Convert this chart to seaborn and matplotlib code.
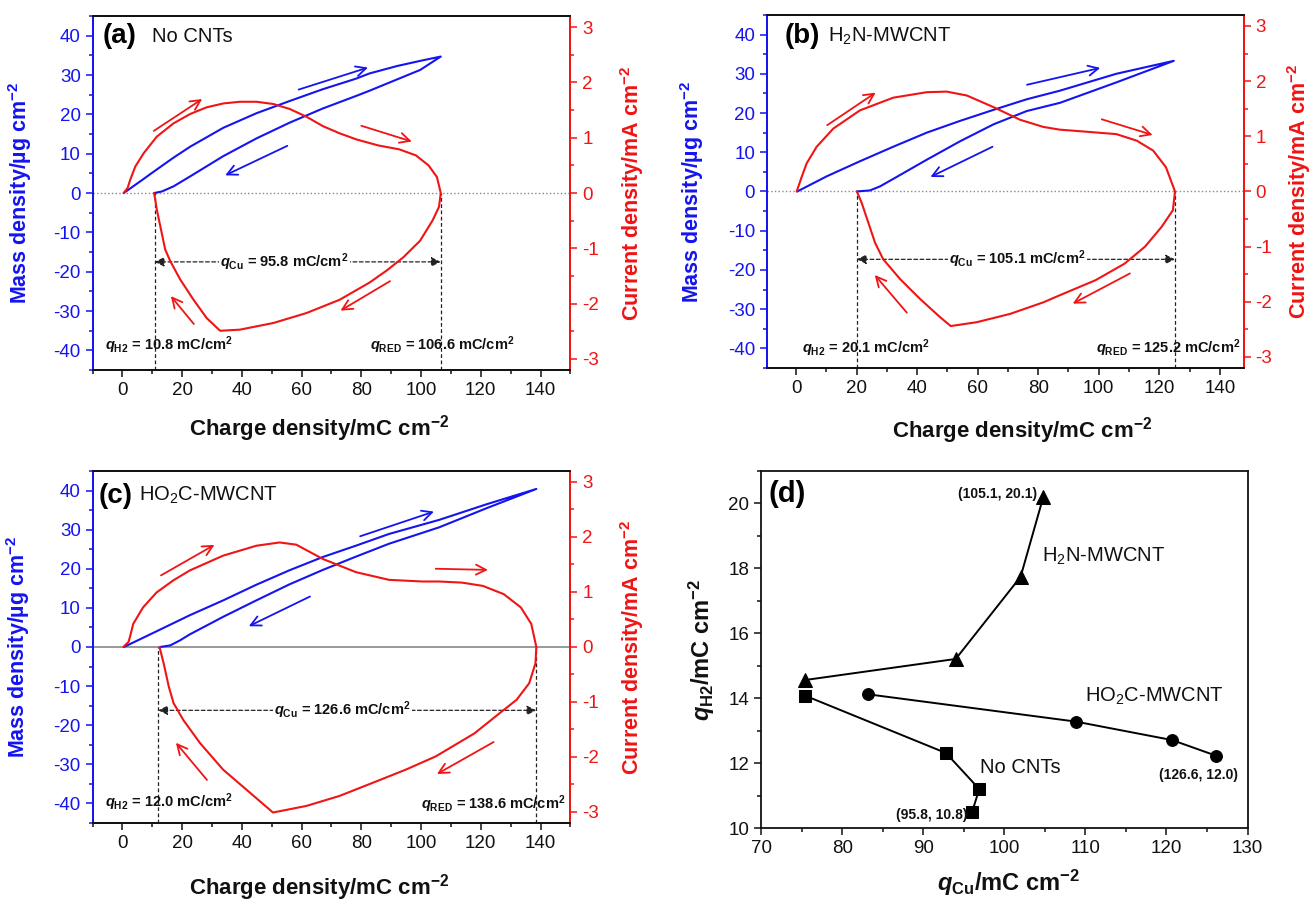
import numpy as np
import pandas as pd
import matplotlib
matplotlib.use('Agg')
import matplotlib.pyplot as plt
import seaborn as sns
from matplotlib.ticker import MultipleLocator

sns.set_style('ticks')
plt.rcParams['font.family'] = ['Liberation Sans', 'DejaVu Sans']
plt.rcParams['mathtext.fontset'] = 'custom'
plt.rcParams['mathtext.rm'] = 'Liberation Sans'
plt.rcParams['mathtext.bf'] = 'Liberation Sans:bold'
plt.rcParams['mathtext.it'] = 'Liberation Sans:bold:italic'
plt.rcParams['mathtext.default'] = 'regular'
plt.rcParams['axes.unicode_minus'] = False

BLUE = '#1414f0'
RED = '#f01414'

# ---------------- data ----------------
# Panel (a) No CNTs
mass_q_a = [0.4, 6.0, 11.5, 17.1, 22.7, 33.8, 44.9, 56.0, 67.1, 78.3, 82.7, 92.0, 99.7, 106.6,
            99.7, 92.0, 82.7, 78.3, 67.1, 56.0, 44.9, 33.8, 22.7, 17.1, 13.2, 10.6]
mass_a = [0, 3.0, 6.0, 9.0, 11.8, 16.6, 20.3, 23.4, 26.4, 29.1, 30.4, 32.3, 33.6, 34.7,
          31.3, 28.9, 26.0, 24.7, 21.5, 17.9, 13.9, 9.4, 4.25, 1.7, 0.4, 0]
cur_q_a = [0.4, 1.7, 2.6, 4.3, 7.1, 11.5, 17.1, 22.7, 28.2, 33.8, 39.3, 44.9, 50.5, 56.0, 61.6, 67.1,
           72.7, 78.3, 85.7, 92.7, 98.3, 102.5, 105.3, 106.6, 106.0, 103.9, 99.7, 94.1, 88.5, 82.7,
           72.7, 61.6, 50.5, 39.3, 32.7, 28.2, 23.8, 19.3, 16.0, 14.3, 12.9, 11.5, 10.6]
cur_a = [0, 0.09, 0.24, 0.48, 0.72, 1.02, 1.26, 1.43, 1.55, 1.62, 1.65, 1.65, 1.61, 1.52, 1.38, 1.21,
         1.08, 0.97, 0.86, 0.79, 0.68, 0.5, 0.29, 0, -0.25, -0.49, -0.86, -1.16, -1.40, -1.62,
         -1.93, -2.17, -2.35, -2.47, -2.49, -2.26, -1.93, -1.56, -1.23, -1.02, -0.66, -0.30, 0]

# Panel (b) H2N-MWCNT
mass_q_b = [0.4, 10.1, 21.1, 32.1, 43.2, 54.2, 65.2, 76.2, 87.2, 105.8, 124.8,
            105.8, 87.2, 76.2, 65.2, 54.2, 43.2, 32.1, 27.7, 24.4, 20.0]
mass_b = [0, 3.85, 7.7, 11.4, 15.0, 18.0, 20.8, 23.5, 25.7, 30.0, 33.3,
          27.8, 22.6, 20.5, 17.1, 12.8, 8.1, 3.2, 1.28, 0.26, 0]
cur_q_b = [0.2, 1.9, 3.5, 6.8, 12.3, 21.1, 32.1, 43.2, 49.8, 56.4, 65.2, 74.0, 81.7, 87.2, 92.0, 98.9,
           105.8, 112.6, 118.0, 122.2, 125.2, 124.5, 120.8, 115.3, 108.5, 98.9, 87.2, 81.7, 70.7, 59.7,
           51.1, 47.6, 41.0, 34.4, 28.8, 26.1, 23.9, 21.7, 20.1]
cur_b = [0, 0.27, 0.51, 0.81, 1.14, 1.47, 1.70, 1.80, 1.81, 1.74, 1.53, 1.30, 1.17, 1.12, 1.10, 1.07,
         1.04, 0.92, 0.74, 0.44, 0, -0.34, -0.64, -1.0, -1.31, -1.61, -1.88, -2.01, -2.22, -2.37,
         -2.44, -2.28, -1.95, -1.59, -1.23, -0.93, -0.57, -0.21, 0]

# Panel (c) HO2C-MWCNT
mass_q_c = [0.5, 11.4, 22.5, 33.7, 44.8, 55.9, 67.1, 78.2, 89.3, 106.1, 122.0, 138.6,
            122.0, 106.1, 89.3, 78.2, 67.1, 55.9, 44.8, 33.7, 22.5, 19.3, 16.0, 12.7]
mass_c = [0, 4.0, 8.1, 11.9, 15.9, 19.6, 23.0, 25.9, 28.9, 32.5, 36.5, 40.4,
          35.5, 30.6, 26.4, 23.1, 19.7, 16.0, 11.9, 7.7, 3.2, 1.7, 0.4, 0]
cur_q_c = [0.3, 2.0, 2.5, 3.6, 6.9, 11.4, 17.0, 22.5, 33.7, 44.8, 52.6, 58.2, 67.1, 78.2, 89.3, 100.5,
           106.1, 113.7, 120.7, 127.7, 133.4, 136.9, 138.6, 138.3, 136.2, 132.0, 126.4, 117.9, 104.9,
           94.9, 83.8, 72.6, 61.6, 50.4, 42.7, 33.7, 26.0, 20.4, 17.1, 15.5, 13.8, 12.4]
cur_c = [0, 0.09, 0.18, 0.42, 0.72, 0.99, 1.21, 1.39, 1.66, 1.84, 1.90, 1.86, 1.60, 1.36, 1.22, 1.19,
         1.19, 1.17, 1.11, 0.96, 0.72, 0.42, 0, -0.3, -0.66, -0.96, -1.2, -1.57, -1.99,
         -2.23, -2.47, -2.71, -2.89, -3.01, -2.65, -2.23, -1.75, -1.33, -1.02, -0.72, -0.30, 0]

# characteristic charges
q_h2 = [10.8, 20.1, 12.0]
q_red = [106.6, 125.2, 138.6]
q_cu = [95.8, 105.1, 126.6]

# Panel (d)
qcu_h2n = [75.4, 94.0, 102.0, 104.8]
qh2_h2n = [14.56, 15.21, 17.74, 20.2]
qcu_none = [75.4, 92.8, 96.9, 96.0]
qh2_none = [14.08, 12.31, 11.2, 10.48]
qcu_cooh = [83.2, 108.8, 120.7, 126.1]
qh2_cooh = [14.12, 13.28, 12.71, 12.23]

# ---------------- figure ----------------
fig = plt.figure(figsize=(13.1, 9.01), dpi=100)

rects = [[0.0707, 0.5893, 0.3647, 0.3929],
         [0.5855, 0.5916, 0.3639, 0.3918],
         [0.0707, 0.0866, 0.3647, 0.3907]]
xlims = [(-10, 150), (-9.6, 147.9), (-10, 150)]

panels = [
    dict(mq=mass_q_a, m=mass_a, cq=cur_q_a, c=cur_a, tag='(a)', name='No CNTs',
         tagxy=(-6.6, 40), namexy=(9.8, 39.7), zero_ls=':', arr_y=-17.5, cu_x=54.2,
         h2xy=(-5.9, -38.8), redxy=(131.3, -38.8),
         xlab=(0.475, -0.121), ylabL=-0.123, ylabR=1.1,
         arrows=[(59, 26.3, 82.2, 31.9, BLUE), (55.2, 12, 34.4, 4.5, BLUE),
                 (10.5, 15.8, 26.7, 23.9, RED), (80, 17.1, 96.9, 13.1, RED),
                 (89.6, -22.4, 73, -29.9, RED), (23.9, -33.3, 16.2, -26.2, RED)]),
    dict(mq=mass_q_b, m=mass_b, cq=cur_q_b, c=cur_b, tag='(b)', name='H$_2$N-MWCNT',
         tagxy=(-3.8, 39.6), namexy=(10.5, 39.6), zero_ls=':', arr_y=-17.3, cu_x=73.2,
         h2xy=(1.9, -39.9), redxy=(146.8, -39.9),
         xlab=(0.535, -0.133), ylabL=-0.128, ylabR=1.086,
         arrows=[(76.3, 27.2, 100.5, 31.5, BLUE), (64.9, 11.4, 44.4, 3.7, BLUE),
                 (10.3, 16.9, 26.3, 25.2, RED), (101, 18.4, 117.8, 14.4, RED),
                 (110.3, -20.9, 91.4, -28.6, RED), (36.6, -30.9, 26, -21.3, RED)]),
    dict(mq=mass_q_c, m=mass_c, cq=cur_q_c, c=cur_c, tag='(c)', name='HO$_2$C-MWCNT',
         tagxy=(-7.9, 38.7), namexy=(5.5, 38.7), zero_ls='-', arr_y=-16.2, cu_x=73.7,
         h2xy=(-6.0, -39.7), redxy=(148.2, -40.3),
         xlab=(0.475, -0.139), ylabL=-0.127, ylabR=1.1,
         arrows=[(79.6, 28.3, 104.3, 34.6, BLUE), (62.8, 12.9, 42.3, 5.3, BLUE),
                 (12.9, 18.3, 30.8, 26.1, RED), (104.9, 20, 122.4, 19.7, RED),
                 (124.3, -24.3, 105.3, -32.5, RED), (28.3, -34, 17.9, -24.5, RED)]),
]

LAB = 15.5
TICK = 13.5

for i, p in enumerate(panels):
    ax = fig.add_axes(rects[i])
    ax2 = ax.twinx()
    ax.set_xlim(*xlims[i])
    ax.set_ylim(-45, 45)
    ax2.set_ylim(-3.2, 3.2)

    if p['zero_ls'] == ':':
        ax.axhline(0, color='#888888', ls=':', lw=1.0, zorder=1)
    else:
        ax.axhline(0, color='#999999', ls='-', lw=1.4, zorder=1)

    sns.lineplot(x=p['mq'], y=p['m'], sort=False, estimator=None, ax=ax, color=BLUE, lw=1.5, zorder=3)
    sns.lineplot(x=p['cq'], y=p['c'], sort=False, estimator=None, ax=ax2, color=RED, lw=1.5, zorder=3)

    # dashed guides
    ax.vlines([q_h2[i], q_red[i]], -45, 0, colors='#222222', linestyles=(0, (3, 2)), lw=0.9, zorder=2)
    ay = p['arr_y']
    mid = p['cu_x']
    for end in (q_h2[i], q_red[i]):
        ax.annotate('', xy=(end, ay), xytext=(mid, ay),
                    arrowprops=dict(arrowstyle='-|>', linestyle=(0, (3, 2)), color='#222222', lw=0.9,
                                    mutation_scale=14, shrinkA=0, shrinkB=0), zorder=2)
    ax.text(mid, ay, r'$\mathit{q}_{\mathbf{Cu}}$ = %.1f mC/cm$^{\mathbf{2}}$' % q_cu[i], ha='center',
            va='center', fontsize=10.5, fontweight='bold', color='#111111',
            bbox=dict(fc='white', ec='none', pad=1), zorder=4)
    ax.text(*p['h2xy'], r'$\mathit{q}_{\mathbf{H2}}$ = %.1f mC/cm$^{\mathbf{2}}$' % q_h2[i], ha='left',
            va='center', fontsize=10.5, fontweight='bold', color='#111111', zorder=4)
    ax.text(*p['redxy'], r'$\mathit{q}_{\mathbf{RED}}$ = %.1f mC/cm$^{\mathbf{2}}$' % q_red[i], ha='right',
            va='center', fontsize=10.5, fontweight='bold', color='#111111', zorder=4)

    # direction arrows
    for (x0, y0, x1, y1, col) in p['arrows']:
        ax.annotate('', xy=(x1, y1), xytext=(x0, y0),
                    arrowprops=dict(arrowstyle='->', color=col, lw=1.3, mutation_scale=18,
                                    shrinkA=0, shrinkB=0), zorder=5)

    ax.text(*p['tagxy'], p['tag'], ha='left', va='center', fontsize=20, fontweight='bold', color='k')
    ax.text(*p['namexy'], p['name'], ha='left', va='center', fontsize=14.5, color='#111111')

    # axes styling
    ax.xaxis.set_major_locator(MultipleLocator(20))
    ax.xaxis.set_minor_locator(MultipleLocator(10))
    ax.yaxis.set_major_locator(MultipleLocator(10))
    ax.yaxis.set_minor_locator(MultipleLocator(5))
    ax2.yaxis.set_major_locator(MultipleLocator(1))
    ax2.yaxis.set_minor_locator(MultipleLocator(0.5))

    ax.tick_params(axis='x', which='both', direction='out', colors='#111111', labelsize=TICK, top=False)
    ax.tick_params(axis='y', which='both', direction='out', colors=BLUE, labelsize=TICK, right=False)
    ax2.tick_params(axis='y', which='both', direction='out', colors=RED, labelsize=TICK, left=False)
    for a in (ax, ax2):
        a.tick_params(which='major', length=5, width=1.1)
        a.tick_params(which='minor', length=3, width=1.1)

    for a in (ax, ax2):
        for s in a.spines.values():
            s.set_linewidth(1.3)
        a.spines['top'].set_color('#111111')
        a.spines['bottom'].set_color('#111111')
        a.spines['left'].set_color(BLUE)
        a.spines['right'].set_color(RED)

    ax.set_xlabel('Charge density/mC cm$^{\\mathbf{-2}}$', fontsize=16, fontweight='bold', color='#111111')
    ax.set_ylabel('Mass density/\u00b5g cm$^{\\mathbf{-2}}$', fontsize=LAB, fontweight='bold', color=BLUE)
    ax2.set_ylabel('Current density/mA cm$^{\\mathbf{-2}}$', fontsize=LAB, fontweight='bold', color=RED)
    ax.xaxis.set_label_coords(*p['xlab'])
    ax.yaxis.set_label_coords(p['ylabL'], 0.5)
    ax2.yaxis.set_label_coords(p['ylabR'], 0.5)

# ---------------- panel (d) ----------------
axd = fig.add_axes([0.5811, 0.0810, 0.3712, 0.3962])
df_d = pd.concat([
    pd.DataFrame({'qcu': qcu_h2n, 'qh2': qh2_h2n, 'sample': 'H2N'}),
    pd.DataFrame({'qcu': qcu_none, 'qh2': qh2_none, 'sample': 'none'}),
    pd.DataFrame({'qcu': qcu_cooh, 'qh2': qh2_cooh, 'sample': 'COOH'}),
])
for s, mk, ms in [('H2N', '^', 9.5), ('none', 's', 8), ('COOH', 'o', 8.5)]:
    sub = df_d[df_d['sample'] == s]
    sns.lineplot(data=sub, x='qcu', y='qh2', sort=False, estimator=None, ax=axd, color='k', lw=1.4,
                 marker=mk, markersize=ms, markeredgecolor='k', markerfacecolor='k')

axd.set_xlim(70, 130)
axd.set_ylim(10, 21)
axd.xaxis.set_major_locator(MultipleLocator(10))
axd.xaxis.set_minor_locator(MultipleLocator(5))
axd.yaxis.set_major_locator(MultipleLocator(2))
axd.yaxis.set_minor_locator(MultipleLocator(1))
axd.tick_params(which='both', direction='out', colors='#111111', labelsize=TICK, top=False, right=False)
axd.tick_params(which='major', length=5, width=1.1)
axd.tick_params(which='minor', length=3, width=1.1)
for s in axd.spines.values():
    s.set_linewidth(1.3)
    s.set_color('#111111')

axd.text(70.9, 20.3, '(d)', ha='left', va='center', fontsize=21, fontweight='bold', color='k')
axd.text(99.2, 20.3, '(105.1, 20.1)', ha='center', va='center', fontsize=10, fontweight='bold', color='#111111')
axd.text(112.2, 18.36, 'H$_2$N-MWCNT', ha='center', va='center', fontsize=14.5, color='#111111')
axd.text(118.5, 14.05, 'HO$_2$C-MWCNT', ha='center', va='center', fontsize=14.5, color='#111111')
axd.text(102.0, 11.85, 'No CNTs', ha='center', va='center', fontsize=14.5, color='#111111')
axd.text(124.0, 11.64, '(126.6, 12.0)', ha='center', va='center', fontsize=10, fontweight='bold', color='#111111')
axd.text(91.0, 10.41, '(95.8, 10.8)', ha='center', va='center', fontsize=10, fontweight='bold', color='#111111')

axd.set_xlabel(r'$\mathit{q}_{Cu}$/mC cm$^{\mathbf{-2}}$', fontsize=17, fontweight='bold', color='#111111')
axd.set_ylabel(r'$\mathit{q}_{H2}$/mC cm$^{\mathbf{-2}}$', fontsize=17, fontweight='bold', color='#111111')
axd.xaxis.set_label_coords(0.508, -0.112)
axd.yaxis.set_label_coords(-0.09, 0.5)

fig.savefig('out.png', dpi=100)
